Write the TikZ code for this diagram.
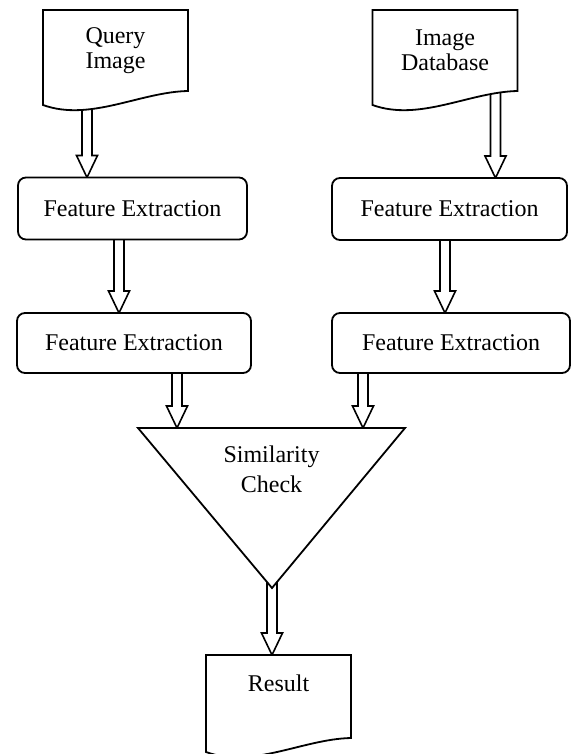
\documentclass[tikz,border=0pt]{standalone}
\usepackage{fontspec}
\setmainfont{Liberation Serif}
\usetikzlibrary{calc,backgrounds}
\tikzset{
  proc/.style={draw, rounded corners=4pt, line width=0.9pt, fill=white, outer sep=0pt,
    minimum height=31pt, font=\fontsize{12}{14}\selectfont},
  docbox/.style={minimum width=72.5pt, minimum height=40.5pt, outer sep=0pt, inner sep=0pt,
    align=center, font=\fontsize{12}{12.5}\selectfont},
  txt/.style={align=center, inner sep=0pt, font=\fontsize{12}{15}\selectfont},
  docline/.style={draw, line width=0.9pt, fill=white},
  fat/.style={line width=0.8pt}
}
% hollow block arrow, straight down from #1 to the height of #2
\newcommand{\fatarrow}[2]{%
  \draw[fat] let \p1=(#1), \p2=(#2) in
    (\x1-2.5pt,\y1) -- (\x1-2.5pt,\y2+11pt) -- (\x1-5.25pt,\y2+11pt) -- (\x1,\y2)
    -- (\x1+5.25pt,\y2+11pt) -- (\x1+2.5pt,\y2+11pt) -- (\x1+2.5pt,\y1);
}
\begin{document}
\begin{tikzpicture}[x=0.5pt,y=-0.5pt]
\useasboundingbox (0,0) rectangle (574,754);
% inputs
\node[docbox] (qimg) at (115.5,50.5) {Query\\Image};
\node[docbox] (imgdb) at (445,50.5) {Image\\Database};
% feature extraction boxes
\node[proc, minimum width=114.5pt] (fe1l) at (132.5,208.5) {Feature Extraction};
\node[proc, minimum width=117.5pt] (fe1r) at (449.5,209) {Feature Extraction};
\node[proc, minimum width=117pt, minimum height=30pt] (fe2l) at (134,343) {Feature Extraction};
\node[proc, minimum width=119pt, minimum height=30pt] (fe2r) at (451,343) {Feature Extraction};
% similarity check
\node[txt] (sim) at (271.5,469) {Similarity\\Check};
\coordinate (simtl) at (138,428);
\coordinate (simtr) at (405,428);
\coordinate (simb) at (272,588);
% output
\node[docbox, minimum height=41.5pt, text depth=13.7pt] (res) at (278.5,696.5) {Result};
\begin{pgfonlayer}{background}
\fatarrow{[xshift=22pt]qimg.south west}{fe1l.north}
\fatarrow{[xshift=-6.75pt]fe1l.south}{fe2l.north}
\fatarrow{[xshift=-11pt]imgdb.south east}{fe1r.north}
\fatarrow{[xshift=-2.25pt]fe1r.south}{fe2r.north}
\fatarrow{[xshift=21.5pt]fe2l.south}{simtl}
\fatarrow{[xshift=-44pt]fe2r.south}{simtr}
\fatarrow{[yshift=10pt]simb}{res.north}
\draw[docline] (qimg.north west) -- (qimg.north east) -- (qimg.south east)
  .. controls ($(qimg.south west)+(97,1)$) and ($(qimg.south west)+(47,31)$) .. ($(qimg.south west)+(0,14)$) -- cycle;
\draw[docline] (imgdb.north west) -- (imgdb.north east) -- (imgdb.south east)
  .. controls ($(imgdb.south west)+(97,1)$) and ($(imgdb.south west)+(47,31)$) .. ($(imgdb.south west)+(0,14)$) -- cycle;
\draw[docline] (res.north west) -- (res.north east) -- (res.south east)
  .. controls ($(res.south west)+(97,1)$) and ($(res.south west)+(47,31)$) .. ($(res.south west)+(0,14)$) -- cycle;
\draw[docline] (simtl) -- (simtr) -- (simb) -- cycle;
\end{pgfonlayer}
\end{tikzpicture}
\end{document}
